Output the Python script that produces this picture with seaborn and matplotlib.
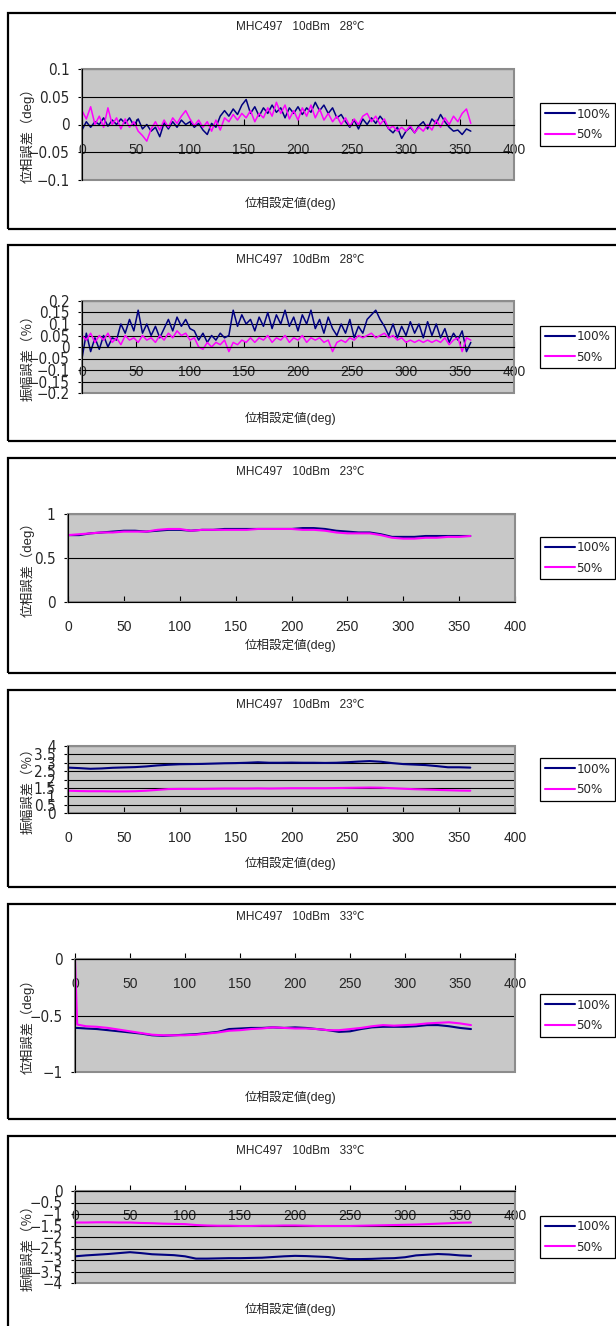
import os
import matplotlib
matplotlib.use("Agg")
import matplotlib.pyplot as plt
from matplotlib import font_manager
from matplotlib.font_manager import FontProperties
from matplotlib.patches import Rectangle
import seaborn as sns
import pandas as pd

# ---------------- data ----------------
x_noisy = [0, 4, 8, 12, 16, 20, 24, 28, 32, 36, 40, 44, 48, 52, 56, 60, 64, 68, 72, 76,
           80, 84, 88, 92, 96, 100, 104, 108, 112, 116, 120, 124, 128, 132, 136, 140, 144, 148, 152, 156,
           160, 164, 168, 172, 176, 180, 184, 188, 192, 196, 200, 204, 208, 212, 216, 220, 224, 228, 232, 236,
           240, 244, 248, 252, 256, 260, 264, 268, 272, 276, 280, 284, 288, 292, 296, 300, 304, 308, 312, 316,
           320, 324, 328, 332, 336, 340, 344, 348, 352, 356, 360]

p1_100 = [-0.01, 0.005, -0.005, 0.005, 0.0, 0.012, -0.003, 0.008, 0.0, 0.01, 0.002, 0.012, -0.002, 0.01, -0.008, 0.0, -0.012, -0.005, -0.022, 0.003,
          -0.008, 0.005, -0.005, 0.008, 0.0, 0.005, -0.005, 0.002, -0.01, -0.018, 0.002, -0.005, 0.015, 0.025, 0.015, 0.028, 0.018, 0.035, 0.045, 0.02,
          0.032, 0.015, 0.03, 0.02, 0.035, 0.022, 0.03, 0.012, 0.03, 0.02, 0.032, 0.018, 0.03, 0.022, 0.04, 0.025, 0.035, 0.02, 0.03, 0.012,
          0.018, 0.005, -0.005, 0.008, -0.008, 0.01, 0.0, 0.012, 0.002, 0.015, 0.005, -0.008, -0.015, -0.005, -0.025, -0.012, -0.005, -0.015, -0.002, 0.005,
          -0.008, 0.01, 0.002, 0.018, 0.005, -0.005, -0.012, -0.01, -0.018, -0.008, -0.012]
p1_50 = [0.025, 0.01, 0.032, 0.0, 0.015, -0.005, 0.03, 0.0, 0.012, -0.008, 0.01, -0.005, 0.005, -0.012, -0.02, -0.03, -0.008, 0.005, -0.01, 0.008,
         -0.005, 0.012, 0.002, 0.015, 0.025, 0.01, -0.002, 0.008, -0.005, 0.005, -0.012, 0.008, -0.01, 0.012, 0.005, 0.018, 0.008, 0.02, 0.012, 0.025,
         0.005, 0.02, 0.012, 0.03, 0.015, 0.04, 0.02, 0.035, 0.01, 0.025, 0.008, 0.03, 0.015, 0.035, 0.012, 0.028, 0.008, 0.02, 0.005, 0.015,
         0.0, 0.012, -0.003, 0.01, 0.0, 0.015, 0.02, 0.005, 0.015, 0.0, 0.01, -0.008, -0.003, -0.012, -0.005, -0.012, -0.002, -0.015, -0.005, -0.012,
         0.0, -0.01, 0.008, -0.005, 0.012, 0.0, 0.015, 0.005, 0.02, 0.028, 0.002]

p2_100 = [-0.05, 0.06, -0.02, 0.04, -0.01, 0.05, 0.0, 0.04, 0.03, 0.1, 0.06, 0.12, 0.07, 0.16, 0.06, 0.1, 0.05, 0.09, 0.04, 0.08,
          0.12, 0.07, 0.13, 0.09, 0.12, 0.08, 0.07, 0.03, 0.06, 0.02, 0.05, 0.03, 0.06, 0.04, 0.05, 0.16, 0.09, 0.14, 0.1, 0.12,
          0.07, 0.13, 0.09, 0.15, 0.08, 0.14, 0.1, 0.16, 0.09, 0.13, 0.07, 0.14, 0.1, 0.16, 0.08, 0.12, 0.06, 0.13, 0.08, 0.05,
          0.1, 0.06, 0.12, 0.04, 0.09, 0.06, 0.12, 0.14, 0.16, 0.12, 0.09, 0.05, 0.1, 0.04, 0.09, 0.05, 0.11, 0.06, 0.1, 0.04,
          0.11, 0.05, 0.1, 0.04, 0.08, 0.02, 0.06, 0.03, 0.07, -0.02, 0.02]
p2_50 = [0.05, 0.03, 0.06, 0.02, 0.05, 0.03, 0.06, 0.02, 0.04, 0.01, 0.05, 0.03, 0.04, 0.02, 0.05, 0.03, 0.04, 0.02, 0.05, 0.03,
         0.06, 0.04, 0.07, 0.05, 0.06, 0.03, 0.04, 0.0, -0.01, 0.02, 0.0, 0.02, 0.01, 0.03, -0.02, 0.02, 0.01, 0.03, 0.02, 0.04,
         0.02, 0.04, 0.03, 0.05, 0.02, 0.04, 0.03, 0.05, 0.02, 0.04, 0.03, 0.05, 0.02, 0.04, 0.03, 0.04, 0.02, 0.03, -0.02, 0.02,
         0.03, 0.02, 0.04, 0.03, 0.05, 0.04, 0.05, 0.06, 0.04, 0.05, 0.06, 0.04, 0.05, 0.03, 0.04, 0.02, 0.03, 0.02, 0.03, 0.02,
         0.03, 0.02, 0.03, 0.02, 0.04, 0.01, 0.03, 0.04, -0.02, 0.04, 0.03]

x_smooth = [0, 10, 20, 30, 40, 50, 60, 70, 80, 90, 100, 110, 120, 130, 140, 150, 160, 170, 180, 190,
            200, 210, 220, 230, 240, 250, 260, 270, 280, 290, 300, 310, 320, 330, 340, 350, 360]

p3_100 = [0.76, 0.76, 0.78, 0.79, 0.80, 0.81, 0.81, 0.80, 0.81, 0.82, 0.82, 0.81, 0.82, 0.82, 0.83, 0.83, 0.83, 0.83, 0.83, 0.83,
          0.83, 0.84, 0.84, 0.83, 0.81, 0.80, 0.79, 0.79, 0.77, 0.74, 0.74, 0.74, 0.75, 0.75, 0.75, 0.75, 0.75]
p3_50 = [0.76, 0.77, 0.78, 0.79, 0.79, 0.80, 0.80, 0.80, 0.82, 0.83, 0.83, 0.81, 0.82, 0.82, 0.82, 0.82, 0.82, 0.83, 0.83, 0.83,
         0.83, 0.82, 0.82, 0.81, 0.79, 0.78, 0.78, 0.78, 0.76, 0.73, 0.72, 0.72, 0.73, 0.73, 0.74, 0.74, 0.75]

p4_100 = [2.71, 2.68, 2.64, 2.66, 2.70, 2.72, 2.74, 2.78, 2.84, 2.88, 2.91, 2.92, 2.93, 2.95, 2.97, 2.98, 3.00, 3.03, 3.00, 3.00,
          3.01, 3.00, 3.00, 2.99, 3.00, 3.03, 3.07, 3.10, 3.06, 2.98, 2.92, 2.89, 2.86, 2.80, 2.73, 2.73, 2.71]
p4_50 = [1.33, 1.31, 1.30, 1.30, 1.29, 1.29, 1.30, 1.33, 1.38, 1.43, 1.44, 1.44, 1.44, 1.45, 1.46, 1.46, 1.46, 1.47, 1.46, 1.47,
         1.48, 1.48, 1.48, 1.48, 1.49, 1.50, 1.51, 1.52, 1.51, 1.48, 1.45, 1.42, 1.40, 1.38, 1.36, 1.34, 1.33]

x_p5 = [0, 2, 10, 20, 30, 40, 50, 60, 70, 80, 90, 100, 110, 120, 130, 140, 150, 160, 170, 180, 190,
        200, 210, 220, 230, 240, 250, 260, 270, 280, 290, 300, 310, 320, 330, 340, 350, 360]
p5_100 = [-0.61, -0.61, -0.615, -0.62, -0.63, -0.64, -0.65, -0.66, -0.675, -0.68, -0.675, -0.67, -0.665, -0.655, -0.645, -0.62, -0.615, -0.61, -0.61, -0.605, -0.61,
          -0.605, -0.61, -0.62, -0.63, -0.645, -0.64, -0.62, -0.605, -0.60, -0.60, -0.60, -0.595, -0.585, -0.585, -0.595, -0.61, -0.62]
p5_50 = [0.0, -0.58, -0.595, -0.60, -0.61, -0.625, -0.64, -0.655, -0.67, -0.675, -0.675, -0.675, -0.67, -0.66, -0.65, -0.635, -0.63, -0.62, -0.615, -0.605, -0.61,
         -0.615, -0.615, -0.62, -0.63, -0.63, -0.62, -0.61, -0.595, -0.585, -0.59, -0.585, -0.58, -0.57, -0.565, -0.56, -0.57, -0.585]

p6_100 = [-2.84, -2.80, -2.77, -2.74, -2.70, -2.66, -2.70, -2.75, -2.77, -2.79, -2.84, -2.94, -2.94, -2.93, -2.92, -2.92, -2.91, -2.90, -2.87, -2.84,
          -2.82, -2.83, -2.85, -2.87, -2.92, -2.96, -2.96, -2.95, -2.93, -2.92, -2.88, -2.80, -2.77, -2.74, -2.76, -2.80, -2.82]
p6_50 = [-1.37, -1.37, -1.36, -1.36, -1.37, -1.37, -1.39, -1.40, -1.42, -1.43, -1.44, -1.48, -1.50, -1.51, -1.51, -1.52, -1.52, -1.51, -1.51, -1.50,
         -1.50, -1.51, -1.52, -1.52, -1.52, -1.52, -1.51, -1.50, -1.49, -1.48, -1.47, -1.46, -1.44, -1.42, -1.40, -1.38, -1.37]

series_names = ["100%", "50%"]
titles = ["MHC497   10dBm   28℃", "MHC497   10dBm   28℃", "MHC497   10dBm   23℃",
          "MHC497   10dBm   23℃", "MHC497   10dBm   33℃", "MHC497   10dBm   33℃"]
ylabels = ["位相誤差（deg）", "振幅誤差（％）", "位相誤差（deg）",
           "振幅誤差（％）", "位相誤差（deg）", "振幅誤差（％）"]
xlabel_text = "位相設定値(deg)"
x_ticks = [0, 50, 100, 150, 200, 250, 300, 350, 400]
y_ticks = [
    [-0.1, -0.05, 0, 0.05, 0.1],
    [-0.2, -0.15, -0.1, -0.05, 0, 0.05, 0.1, 0.15, 0.2],
    [0, 0.5, 1],
    [0, 0.5, 1, 1.5, 2, 2.5, 3, 3.5, 4],
    [-1, -0.5, 0],
    [-4, -3.5, -3, -2.5, -2, -1.5, -1, -0.5, 0],
]
panel_data = [
    (x_noisy, p1_100, p1_50),
    (x_noisy, p2_100, p2_50),
    (x_smooth, p3_100, p3_50),
    (x_smooth, p4_100, p4_50),
    (x_p5, p5_100, p5_50),
    (x_smooth, p6_100, p6_50),
]

# ---------------- style ----------------
sns.set_style("white")

# look for a condensed / narrow sans font for the Excel-like digits
narrow = None
prio = ["liberationsansnarrow-regular", "arialn", "dejavusanscondensed.ttf",
        "robotocondensed-regular", "notosans-condensed.ttf", "opensans-condensed", "lato"]
cands = []
for f in font_manager.fontManager.ttflist:
    fn = os.path.basename(f.fname).lower()
    nm = f.name.lower()
    if f.style != "normal":
        continue
    if ("narrow" in fn or "condensed" in fn or "narrow" in nm or "condensed" in nm
            or str(f.stretch) in ("condensed", "semi-condensed", "extra-condensed")):
        if any(k in fn for k in ("bold", "light", "oblique", "italic", "semi", "extra",
                                 "medium", "black", "thin")):
            continue
        cands.append(f)
for key in prio:
    for f in cands:
        if key in os.path.basename(f.fname).lower():
            narrow = f
            break
    if narrow is not None:
        break
if narrow is None and cands:
    narrow = cands[0]

if narrow is not None:
    NUM_FP = lambda size: FontProperties(fname=narrow.fname, size=size)
    TICK_SIZE, LEG_SIZE = 11, 9.5
else:
    NUM_FP = lambda size: FontProperties(family="Liberation Sans", size=size)
    TICK_SIZE, LEG_SIZE = 10.5, 9.5

FAM = ["Liberation Sans", "Noto Sans CJK JP", "DejaVu Sans"]
plt.rcParams["font.family"] = FAM

W, H = 616, 1326
fig = plt.figure(figsize=(W / 100, H / 100), dpi=100)
fig.patch.set_facecolor("white")

def fx(x):
    return x / W

def fy(y):
    return 1 - y / H

# layout (pixels)
plot_boxes = [(82, 69, 514, 180), (82, 301, 514, 393), (68, 514, 515, 602),
              (68, 746, 515, 813), (75, 959, 515, 1072), (75, 1191, 515, 1283)]
outer_boxes = [(13, 229), (245, 441), (458, 673), (690, 887), (904, 1119), (1136, 1350)]
title_y = [27, 260, 472, 705, 917, 1151]
xlabel_y = [203, 418, 645, 863, 1097, 1309]

colors = {"100%": "#000080", "50%": "#FF00FF"}

def fmt(v):
    s = ("%g" % round(v, 4))
    return s.replace("-", "\u2212")

for i in range(6):
    x0, y0, x1, y1 = plot_boxes[i]
    ax = fig.add_axes([fx(x0), fy(y1), (x1 - x0) / W, (y1 - y0) / H])
    xs, a, b = panel_data[i]
    df = pd.DataFrame({"x": list(xs) * 2, "y": list(a) + list(b),
                       "s": [series_names[0]] * len(xs) + [series_names[1]] * len(xs)})
    lw = 1.1 if i < 2 else 1.5
    sns.lineplot(data=df, x="x", y="y", hue="s", palette=colors, estimator=None,
                 sort=False, linewidth=lw, ax=ax, legend=False)
    ax.set_facecolor("#C8C8C8")
    ax.set_xlim(0, 400)
    yt = y_ticks[i]
    ax.set_ylim(min(yt), max(yt))
    ax.set_xticks(x_ticks)
    ax.set_xticklabels([fmt(v) for v in x_ticks], fontproperties=NUM_FP(TICK_SIZE))
    ax.set_yticks(yt)
    ax.set_yticklabels([fmt(v) for v in yt], fontproperties=NUM_FP(TICK_SIZE))
    ax.set_xlabel("")
    ax.set_ylabel("")
    ax.yaxis.grid(True, color="black", linewidth=0.8)
    ax.xaxis.grid(False)
    ax.set_axisbelow(True)
    for sp in ["top", "right"]:
        ax.spines[sp].set_visible(False)
    ax.spines["left"].set_color("black")
    ax.spines["left"].set_linewidth(0.8)
    ax.spines["bottom"].set_position(("data", 0))
    ax.spines["bottom"].set_color("black")
    ax.spines["bottom"].set_linewidth(0.8)
    frame = Rectangle((0, 0), 1, 1, transform=ax.transAxes, fill=False,
                      edgecolor="#8C8C8C", linewidth=1.5, clip_on=False, zorder=2.3)
    ax.add_patch(frame)
    ax.tick_params(axis="x", direction="in", length=4, width=0.8, pad=13,
                   color="black", bottom=True, top=False)
    ax.tick_params(axis="y", direction="out", length=3, width=0.8, pad=6,
                   color="black", left=True, right=False)

    # legend
    handles = [plt.Line2D([], [], color=colors[n], linewidth=1.5) for n in series_names]
    yc = (y0 + y1) / 2
    leg = ax.legend(handles, series_names, loc="center left",
                    bbox_to_anchor=(fx(540), fy(yc)), bbox_transform=fig.transFigure,
                    frameon=True, fancybox=False, edgecolor="black", framealpha=1,
                    borderaxespad=0, prop=NUM_FP(LEG_SIZE), handlelength=2.3,
                    handletextpad=0.1, borderpad=0.35, labelspacing=0.55)
    leg.get_frame().set_linewidth(0.9)

    # texts
    fig.text(fx(300), fy(title_y[i]), titles[i], ha="center", va="center",
             fontsize=8.5, family=FAM)
    fig.text(fx(291), fy(xlabel_y[i]), xlabel_text, ha="center", va="center",
             fontsize=9, family=FAM)
    fig.text(fx(28), fy(yc + 8), ylabels[i], ha="center", va="center",
             rotation=90, fontsize=9.5, family=FAM)

    # outer chart box
    ob0, ob1 = outer_boxes[i]
    fig.add_artist(Rectangle((fx(8), fy(ob1)), (660 - 8) / W, (ob1 - ob0) / H,
                             transform=fig.transFigure, fill=False,
                             edgecolor="black", linewidth=1.6))

fig.savefig("out.png", dpi=100, facecolor="white")
